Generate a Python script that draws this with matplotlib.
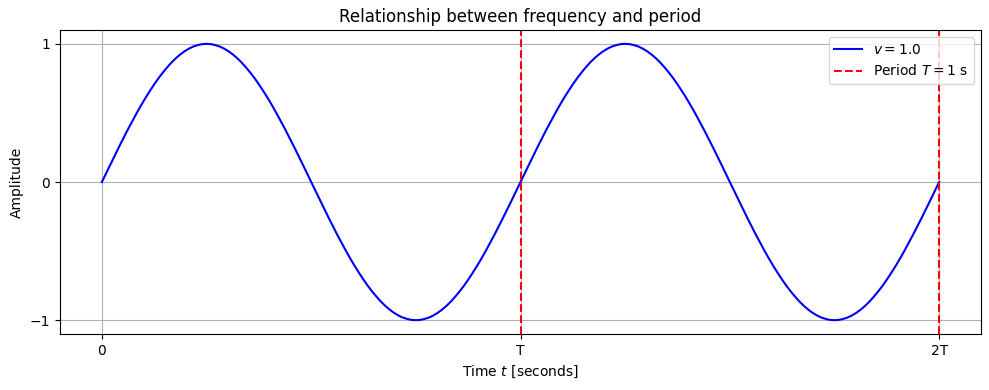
import matplotlib
matplotlib.use('Agg')
import matplotlib.pyplot as plt
import numpy as np

# 데이터: 주파수 1.0, 주기 1 s
frequency = 1.0
period = 1.0

# 한 주기 동안 그림에서 읽어낸 진폭 값 (1/96 s 간격, 첫 1/4 주기)
quarter_rise = [0.000, 0.065, 0.131, 0.195, 0.259, 0.321, 0.383, 0.442, 0.500,
                0.556, 0.609, 0.659, 0.707, 0.752, 0.793, 0.831, 0.866, 0.897,
                0.924, 0.947, 0.966, 0.981, 0.991, 0.998]
half_cycle = quarter_rise + [1.000] + quarter_rise[:0:-1]
one_cycle = half_cycle + [-v for v in half_cycle]
amplitude = one_cycle + one_cycle + [0.000]
time = [i / 96 * period for i in range(len(amplitude))]

period_marks = [period, 2 * period]
x_ticks = [0, period, 2 * period]
x_tick_labels = ['0', 'T', '2T']
y_ticks = [-1, 0, 1]
y_tick_labels = ['\u22121', '0', '1']

fig, ax = plt.subplots(figsize=(9.89, 3.9), dpi=100)

ax.plot(time, amplitude, color='blue', label=f'$v = {frequency}$')
for i, m in enumerate(period_marks):
    ax.axvline(m, color='red', linestyle='--',
               label=f'Period $T = {period:g}$ s' if i == 0 else None)

ax.set_xticks(x_ticks)
ax.set_xticklabels(x_tick_labels)
ax.set_yticks(y_ticks)
ax.set_yticklabels(y_tick_labels)
ax.set_xlabel('Time $t$ [seconds]')
ax.set_ylabel('Amplitude')
ax.set_title('Relationship between frequency and period')
ax.grid(True)
ax.legend(loc='upper right')

fig.subplots_adjust(left=0.0607, right=0.9919, top=0.923, bottom=0.1436)
plt.savefig('out.png', dpi=100)
